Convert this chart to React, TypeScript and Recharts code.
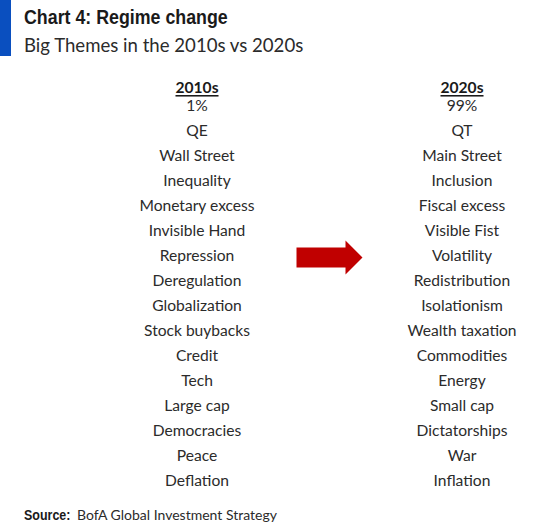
import React from 'react'
import { Scatter, ScatterChart, XAxis, YAxis } from 'recharts'

const headers = ['2010s', '2020s']

const themes2010s = [
  '1%', 'QE', 'Wall Street', 'Inequality', 'Monetary excess', 'Invisible Hand',
  'Repression', 'Deregulation', 'Globalization', 'Stock buybacks', 'Credit',
  'Tech', 'Large cap', 'Democracies', 'Peace', 'Deflation',
]

const themes2020s = [
  '99%', 'QT', 'Main Street', 'Inclusion', 'Fiscal excess', 'Visible Fist',
  'Volatility', 'Redistribution', 'Isolationism', 'Wealth taxation', 'Commodities',
  'Energy', 'Small cap', 'Dictatorships', 'War', 'Inflation',
]

const textFont = 'Lato, "Open Sans", sans-serif'
const boldFont = '"Liberation Sans", Arial, sans-serif'

const cells = [
  ...headers.map((label, col) => ({ col, row: 0, label, header: true })),
  ...themes2010s.map((label, i) => ({ col: 0, row: i + 1, label, header: false })),
  ...themes2020s.map((label, i) => ({ col: 1, row: i + 1, label, header: false })),
]

const arrow = [{ col: 0.5, row: 7.1 }]

const TextCell = (props: any) => {
  const { cx, cy, payload } = props
  return (
    <text
      x={cx}
      y={cy}
      dy={payload.header ? 7 : 0}
      textAnchor="middle"
      dominantBaseline="central"
      fontFamily={textFont}
      fontSize={15.6}
      fontWeight={payload.header ? 700 : 400}
      textDecoration={payload.header ? 'underline' : undefined}
      fill={payload.header ? '#1a1a1a' : '#2b2b2b'}
    >
      {payload.label}
    </text>
  )
}

const Arrow = (props: any) => {
  const { cx, cy } = props
  const pts = [
    [-33, -10], [16, -10], [16, -17], [33, 0], [16, 17], [16, 10], [-33, 10],
  ]
  return <polygon points={pts.map(([x, y]) => `${cx + x},${cy + y}`).join(' ')} fill="#c00000" />
}

export default function App() {
  return (
    <div style={{ position: 'absolute', left: 0, top: 0, width: 541, height: 530, background: '#fff' }}>
      <div style={{ position: 'absolute', left: 0, top: 0, width: 11, height: 56, background: '#0a4fbf' }} />
      <div
        style={{
          position: 'absolute', left: 24, top: 5, fontFamily: boldFont, fontWeight: 700,
          fontSize: 20, color: '#1a1a1a', lineHeight: '24px', whiteSpace: 'nowrap',
          transform: 'scaleX(0.89)', transformOrigin: 'left center',
        }}
      >
        Chart 4: Regime change
      </div>
      <div
        style={{
          position: 'absolute', left: 24, top: 33, fontFamily: textFont,
          fontSize: 18.6, color: '#2b2b2b', lineHeight: '24px', whiteSpace: 'nowrap',
        }}
      >
        Big Themes in the 2010s vs 2020s
      </div>
      <ScatterChart
        width={541}
        height={530}
        margin={{ top: 80, right: 79, bottom: 50, left: 197 }}
      >
        <XAxis type="number" dataKey="col" domain={[0, 1]} hide />
        <YAxis type="number" dataKey="row" domain={[0, 16]} reversed hide />
        <Scatter data={cells} shape={TextCell} isAnimationActive={false} />
        <Scatter data={arrow} shape={Arrow} isAnimationActive={false} />
      </ScatterChart>
      <div
        style={{
          position: 'absolute', left: 24, top: 505, fontFamily: textFont,
          fontSize: 14, color: '#2b2b2b', lineHeight: '20px', whiteSpace: 'nowrap',
        }}
      >
        <span
          style={{
            display: 'inline-block', fontFamily: boldFont, fontWeight: 700, color: '#1a1a1a',
            transform: 'scaleX(0.89)', transformOrigin: 'left center', width: 53,
          }}
        >
          Source:
        </span>
        BofA Global Investment Strategy
      </div>
    </div>
  )
}
